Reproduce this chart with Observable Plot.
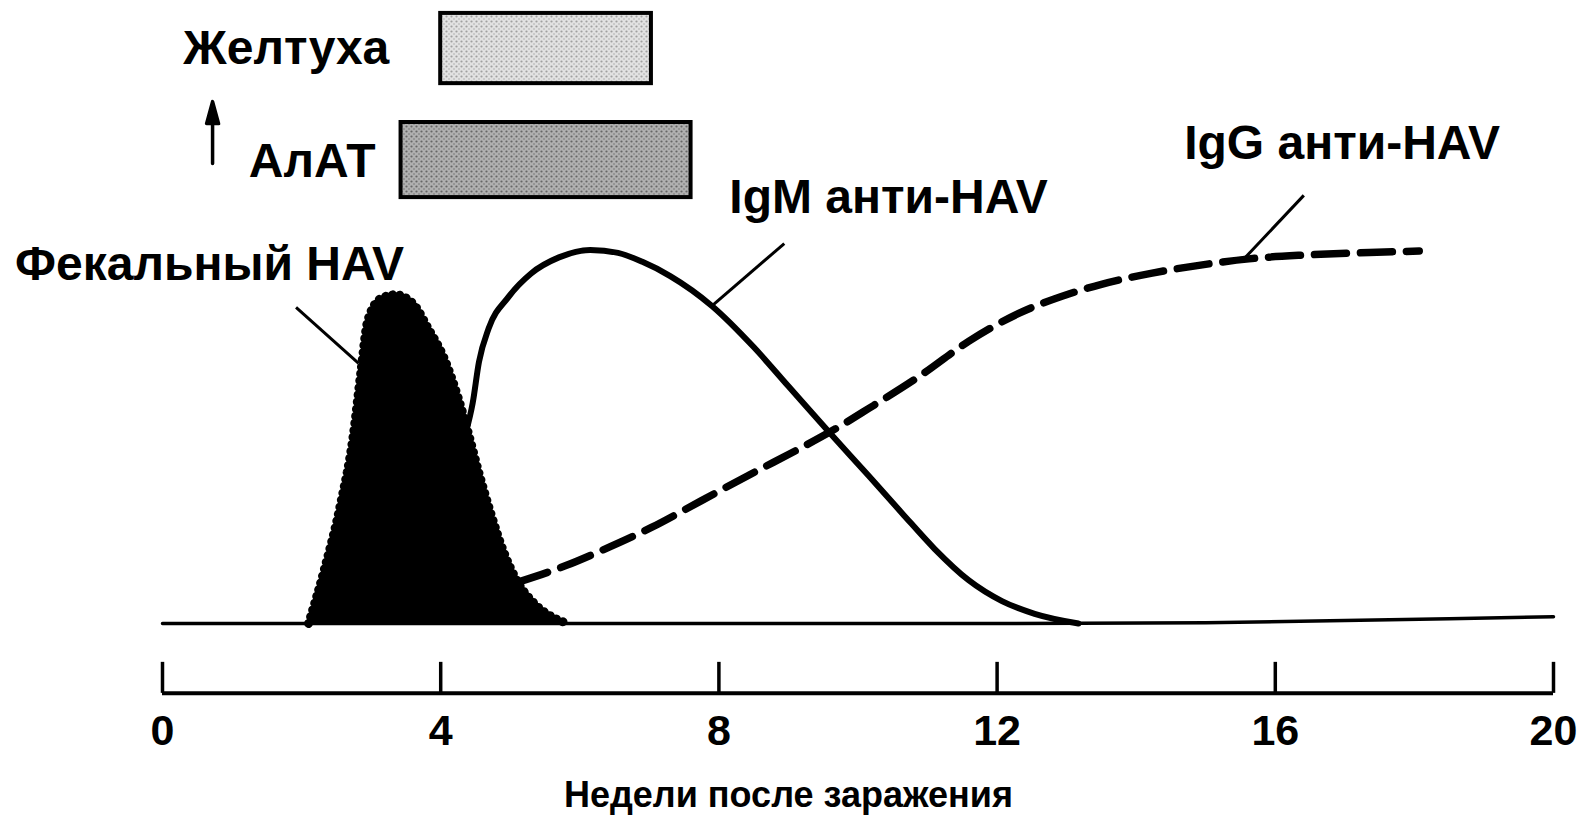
<!DOCTYPE html>
<html><head><meta charset="utf-8">
<script src="https://cdn.jsdelivr.net/npm/d3@7"></script>
<script src="https://cdn.jsdelivr.net/npm/@observablehq/plot@0.6"></script>
<style>body{margin:0;background:#fff} svg{display:block}</style>
</head><body><div id="chart"></div>
<script>
// ---- data (weeks after infection, relative level 0..100) ----
const tickWeeks = [0, 4, 8, 12, 16, 20];
const tickLabels = ["0", "4", "8", "12", "16", "20"];
const axisTitle = "Недели после заражения";

const baseWeeks = [0, 6, 12, 15, 17, 18.5, 20];
const baseLevel = [0, 0, 0, 0.2, 0.8, 1.3, 1.8];

const fecalWeeks = [2.10, 2.32, 2.56, 2.74, 2.85, 2.95, 3.14, 3.35, 3.61, 3.82, 4.05, 4.25, 4.39, 4.54, 4.72, 4.91, 5.11, 5.34, 5.63, 5.83];
const fecalLevel = [0, 14, 32, 50, 67, 81, 87, 88, 85.5, 79, 71, 60.5, 51.5, 41, 29.5, 19, 11, 5.5, 1.5, 0];

const igmWeeks = [4.36, 4.46, 4.55, 4.69, 4.97, 5.30, 5.70, 6.15, 6.55, 6.90, 7.30, 7.90, 8.50, 9.00, 9.58, 10.15, 10.63, 11.10, 11.59, 12.07, 12.54, 13.17];
const igmLevel = [51, 59, 70, 79, 87.3, 93.7, 98, 100, 99.2, 96.8, 93, 85, 74, 63.5, 51.3, 39.6, 29.6, 20, 11.6, 6.0, 2.6, 0];

const iggWeeks = [5.10, 5.80, 6.31, 7.03, 7.75, 8.47, 9.19, 9.62, 10.15, 10.87, 11.59, 12.31, 13.03, 13.50, 14.23, 14.95, 15.62, 16.39, 17.35, 18.07];
const iggLevel = [11, 15.5, 19.5, 25.7, 32.9, 40.1, 47.1, 51.5, 57.5, 66, 75.5, 83, 88.2, 90.8, 93.8, 96.0, 97.6, 98.6, 99.3, 99.7];

// clinical periods (bars at top)
const periodNames = ["Желтуха", "АлАТ"];
const periodStart = [4.0, 3.43];
const periodEnd = [7.03, 7.6];
const periodLow = [144.5, 114];
const periodHigh = [163.3, 134.1];

// labels (anchor in weeks / level)
const labelTexts = ["Желтуха", "АлАТ", "Фекальный HAV", "IgM анти-HAV", "IgG анти-HAV"];
const labelWeeks = [0.30, 1.24, -2.12, 8.15, 14.69];
const labelLevel = [153.9, 123.6, 96.0, 114.0, 128.4];

// leader lines
const leaderX1 = [1.92, 8.94, 16.41];
const leaderY1 = [84.6, 101.7, 114.6];
const leaderX2 = [2.82, 7.90, 15.57];
const leaderY2 = [69.6, 85.0, 98.0];

// arrow "increase" next to АлАТ
const arrowWeek = 0.72;
const arrowFrom = 123.1;

// ---- build ----
const zip = (xs, ys) => xs.map((x, i) => ({x, y: ys[i]}));
const base = zip(baseWeeks, baseLevel);
const fecal = zip(fecalWeeks, fecalLevel);
const igm = zip(igmWeeks, igmLevel);
const igg = zip(iggWeeks, iggLevel);
const periods = periodNames.map((n, i) => ({n, x1: periodStart[i], x2: periodEnd[i], y1: periodLow[i], y2: periodHigh[i]}));
const labels = labelTexts.map((t, i) => ({t, x: labelWeeks[i], y: labelLevel[i]}));
const leaders = leaderX1.map((x1, i) => ({x1, y1: leaderY1[i], x2: leaderX2[i], y2: leaderY2[i]}));

const axisLevel = -18.7, tickTop = -10.4;

const arrowShape = {
  draw(context, l) {
    context.moveTo(0, 0);
    context.lineTo(0, -l + 16);
    context.moveTo(-6, -l + 22);
    context.lineTo(0, -l);
    context.lineTo(6, -l + 22);
    context.closePath();
  }
};

const chart = Plot.plot({
  width: 1592,
  height: 824,
  marginTop: 0, marginRight: 39, marginBottom: 131, marginLeft: 162,
  style: {fontFamily: "'Liberation Sans', Arial, sans-serif", background: "#fff", color: "#000"},
  x: {domain: [0, 20], range: [162, 1553], axis: null},
  y: {domain: [0, 100], range: [623, 249.4], axis: null},
  marks: [
    Plot.lineY(base, {x: "x", y: "y", stroke: "#000", strokeWidth: 3.5}),
    Plot.areaY(fecal, {x: "x", y: "y", fill: "#000", curve: "monotone-x"}),
    Plot.lineY(fecal, {x: "x", y: "y", stroke: "#000", strokeWidth: 9, strokeDasharray: "0.1 7", strokeLinecap: "round", curve: "monotone-x"}),
    Plot.lineY(igg, {x: "x", y: "y", stroke: "#000", strokeWidth: 7.5, strokeDasharray: "32 14", curve: "monotone-x"}),
    Plot.lineY(igm, {x: "x", y: "y", stroke: "#000", strokeWidth: 6, curve: "monotone-x"}),
    Plot.link(leaders, {x1: "x1", y1: "y1", x2: "x2", y2: "y2", stroke: "#000", strokeWidth: 3}),
    Plot.rect([periods[0]], {x1: "x1", x2: "x2", y1: "y1", y2: "y2", fill: "url(#patJ)", stroke: "#000", strokeWidth: 4}),
    Plot.rect([periods[1]], {x1: "x1", x2: "x2", y1: "y1", y2: "y2", fill: "url(#patA)", stroke: "#000", strokeWidth: 4}),
    Plot.vector([arrowWeek], {x: d => d, y: () => arrowFrom, length: 62, rotate: 0, anchor: "start", shape: arrowShape, stroke: "#000", fill: "#000", strokeWidth: 3.5}),
    Plot.text(labels, {x: "x", y: "y", text: "t", textAnchor: "start", lineAnchor: "middle", fontSize: 48, fontWeight: "bold", fill: "#000"}),
    // x axis
    Plot.ruleY([axisLevel], {y: d => d, x1: () => 0, x2: () => 20, stroke: "#000", strokeWidth: 4}),
    Plot.ruleX(tickWeeks, {x: d => d, y1: () => axisLevel, y2: () => tickTop, stroke: "#000", strokeWidth: 3.5}),
    Plot.axisX(tickWeeks, {anchor: "bottom", tickSize: 0, tickPadding: 21, tickFormat: d => tickLabels[tickWeeks.indexOf(d)], fontSize: 43, fontWeight: "bold", label: null, fill: "#000"}),
    Plot.text([axisTitle], {x: () => 9.0, y: () => -46, text: d => d, textAnchor: "middle", lineAnchor: "middle", fontSize: 36, fontWeight: "bold", fill: "#000"})
  ]
});

// speckled fills for the two period boxes
const svg = d3.select(chart);
const defs = svg.insert("defs", ":first-child");
function speckle(id, bg, dot) {
  const p = defs.append("pattern").attr("id", id).attr("patternUnits", "userSpaceOnUse").attr("width", 5).attr("height", 5);
  p.append("rect").attr("width", 5).attr("height", 5).attr("fill", bg);
  p.append("circle").attr("cx", 1.5).attr("cy", 1.5).attr("r", 1.1).attr("fill", dot);
  p.append("circle").attr("cx", 4).attr("cy", 4).attr("r", 0.7).attr("fill", dot);
}
speckle("patJ", "#e2e2e2", "#a0a0a0");
speckle("patA", "#b0b0b0", "#666");
document.getElementById("chart").appendChild(chart);
</script>
</body></html>
